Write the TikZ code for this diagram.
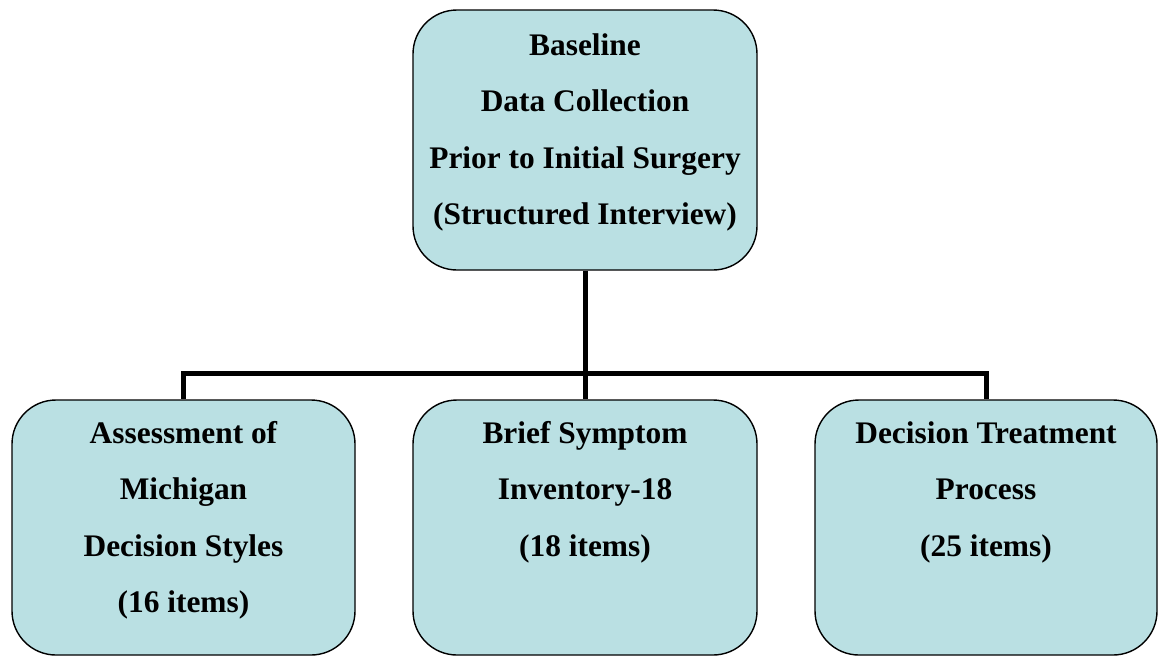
\documentclass[tikz,border=0pt]{standalone}
\usepackage{fontspec}
\setmainfont{Liberation Serif}
\definecolor{boxfill}{RGB}{186,224,227}
\tikzset{
  boxnode/.style={draw=black, line width=1.4pt, fill=boxfill, rounded corners=44pt, inner sep=0pt},
  txt/.style={anchor=base, inner sep=0pt},
  conn/.style={line width=5pt},
}
\newcommand{\lines}[1]{\parbox[t]{340pt}{\centering\fontsize{31.4pt}{56.5pt}\selectfont\bfseries #1}}
\begin{document}
\begin{tikzpicture}[x=1pt,y=-1pt]
\useasboundingbox (0,0) rectangle (1158,657);
% boxes
\node[boxnode, minimum width=344pt, minimum height=260pt] (top) at (585,140) {};
\node[boxnode, minimum width=343pt, minimum height=255pt] (left) at (183.5,527.5) {};
\node[boxnode, minimum width=344pt, minimum height=255pt] (mid) at (585,527.5) {};
\node[boxnode, minimum width=342pt, minimum height=255pt] (right) at (986,527.5) {};
% connectors
\coordinate (bus) at (585,373);
\draw[conn] (top.south) -- (bus);
\draw[conn, line cap=rect] (left.north |- bus) -- (right.north |- bus);
\draw[conn] (left.north |- bus) -- (left.north);
\draw[conn] (mid.north |- bus) -- (mid.north);
\draw[conn] (right.north |- bus) -- (right.north);
% texts
\node[txt] (toptext) at (585,55) {\lines{Baseline\\Data Collection\\Prior to Initial Surgery\\(Structured Interview)}};
\node[txt] (lefttext) at (183.5,443) {\lines{Assessment of\\Michigan\\Decision Styles\\(16 items)}};
\node[txt] (midtext) at (585,443) {\lines{Brief Symptom\\Inventory-18\\(18 items)}};
\node[txt] (righttext) at (986,443) {\lines{Decision Treatment\\Process\\(25 items)}};
\end{tikzpicture}
\end{document}
